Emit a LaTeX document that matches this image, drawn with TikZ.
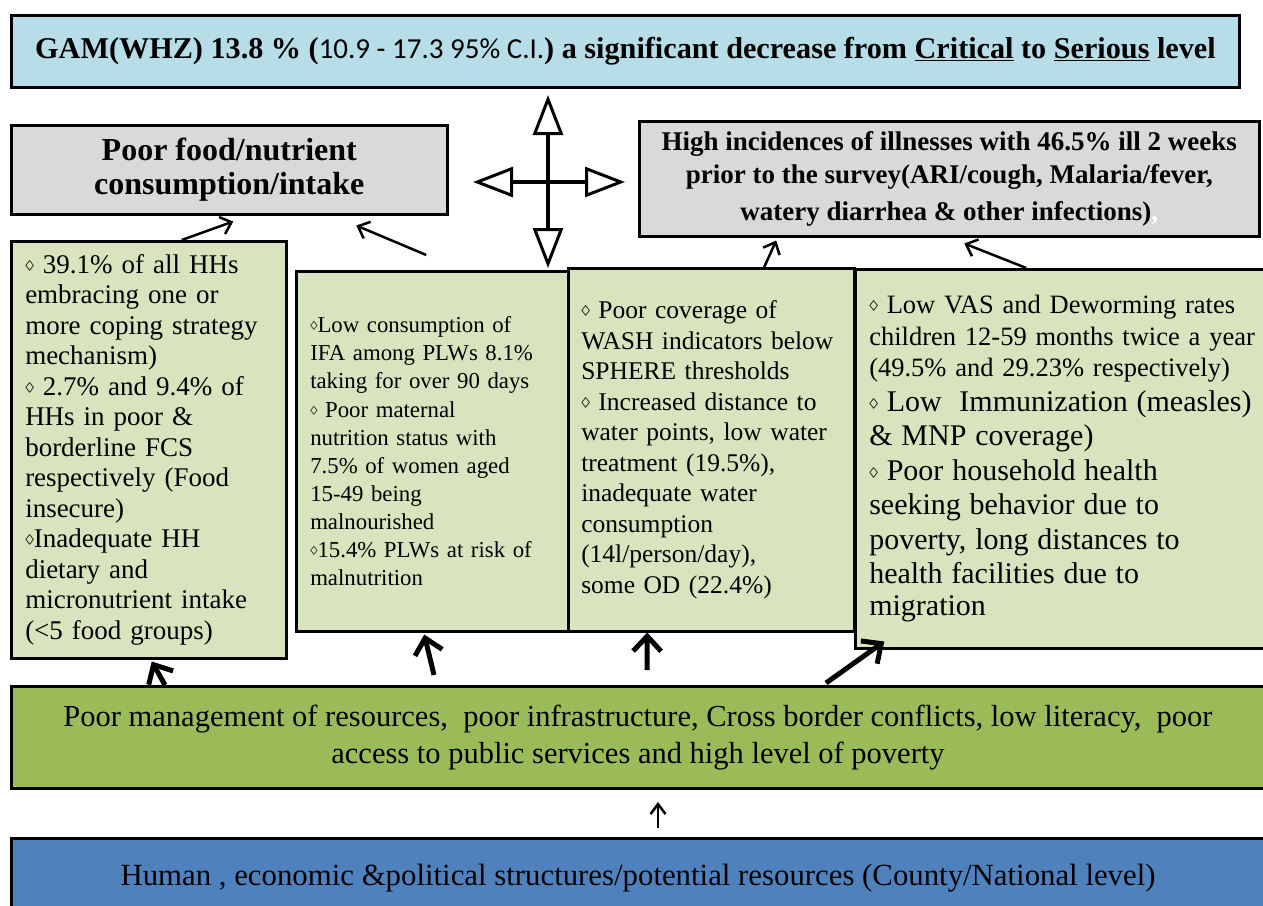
\documentclass[tikz,border=0pt]{standalone}
\usepackage{fontspec}
\usepackage{graphicx}
\setmainfont{Liberation Serif}
\newfontfamily\calib{Carlito}
\usetikzlibrary{arrows.meta}
\definecolor{titleblue}{HTML}{B7DEE8}
\definecolor{boxgray}{HTML}{D9D9D9}
\definecolor{leafgreen}{HTML}{D7E4BD}
\definecolor{olivegreen}{HTML}{9BBB59}
\definecolor{baseblue}{HTML}{4F81BD}
\newcommand{\dia}{\raisebox{0.08em}{\scalebox{0.7}[0.9]{$\diamond$}}}
\tikzset{
  frame/.style={draw, line width=2.5pt, anchor=north west, inner sep=0pt},
  headbox/.style={frame, fill=titleblue, line width=3pt, align=center},
  effectbox/.style={frame, fill=boxgray, align=center, font=\bfseries},
  causebox/.style={frame, fill=leafgreen, align=left, inner xsep=14pt},
  rootbox/.style={frame, line width=3pt, align=center},
  arr/.style={-{Straight Barb[length=10pt,width=18pt]}, line width=2.5pt},
  heavyarr/.style={-{Straight Barb[length=15pt,width=28pt]}, line width=5pt},
  lightarr/.style={-{Straight Barb[length=10pt,width=15pt]}, line width=2.5pt},
  crossarr/.style={{Triangle[open,length=40pt,width=30pt,line width=3pt]}-{Triangle[open,length=40pt,width=30pt,line width=3pt]}, line width=4pt}
}

\begin{document}
\begin{tikzpicture}[x=1pt,y=-1pt]
  \useasboundingbox (0,0) rectangle (1263,905);

  % outcome
  \node[headbox, minimum width=1228pt, minimum height=72pt, font={\fontsize{30.2}{32}\selectfont}] (gam) at (10,14)
    {\textbf{GAM(WHZ) 13.8 \% (}{\calib\fontsize{29}{30}\selectfont 10.9 - 17.3 95\% C.I.}\textbf{) a significant decrease from \underline{Critical} to \underline{Serious} level}};

  % immediate causes
  \node[effectbox, minimum width=436pt, minimum height=89pt, font={\fontsize{32}{34}\selectfont\bfseries}] (intake) at (10,124)
    {Poor food/nutrient\\consumption/intake};
  \node[effectbox, minimum width=620pt, minimum height=115pt, font={\fontsize{27}{33}\selectfont\bfseries}] (illness) at (638,120)
    {High incidences of illnesses with 46.5\% ill 2 weeks\\prior to the survey(ARI/cough, Malaria/fever,\\[4pt]watery diarrhea \& other infections)\textcolor{white}{,}};

  % underlying causes
  \node[causebox, text width=247pt, inner xsep=14pt, minimum width=275pt, minimum height=417pt, font={\fontsize{27}{30.5}\selectfont}] (food) at (10,240)
    {\dia\ 39.1\% of all HHs\\embracing one or\\more coping strategy\\mechanism)\\\dia\ 2.7\% and 9.4\% of\\HHs in poor \&\\borderline FCS\\respectively (Food\\insecure)\\\dia Inadequate HH\\dietary and\\micronutrient intake\\(<5 food groups)};
  \node[causebox, text width=244pt, minimum width=272pt, minimum height=360pt, font={\fontsize{22.8}{28.1}\selectfont}] (care) at (295,270)
    {\dia Low consumption of\\IFA among PLWs 8.1\%\\taking for over 90 days\\\dia\ Poor maternal\\nutrition status with\\7.5\% of women aged\\15-49 being\\malnourished\\\dia 15.4\% PLWs at risk of\\malnutrition};
  \node[causebox, text width=260pt, inner xsep=13pt, minimum width=286pt, minimum height=363pt, font={\fontsize{25.5}{30.5}\selectfont}] (wash) at (567,267)
    {\dia\ Poor coverage of\\WASH indicators below\\SPHERE thresholds\\\dia\ Increased distance to\\water points, low water\\treatment (19.5\%),\\inadequate water\\consumption\\(14l/person/day),\\some OD (22.4\%)};
  \node[causebox, text width=392pt, minimum width=420pt, minimum height=379pt, font={\fontsize{26.5}{31.5}\selectfont}] (health) at (854,268)
    {\dia\ Low VAS and Deworming rates\\children 12-59 months twice a year\\(49.5\% and 29.23\% respectively)\par
     \fontsize{30}{34.5}\selectfont\dia\ Low\ \ Immunization (measles)\\\& MNP coverage)\\\dia\ Poor household health\\seeking behavior due to\\poverty, long distances to\\health facilities due to\\migration};

  % basic causes
  \node[rootbox, fill=olivegreen, minimum width=1253pt, minimum height=102pt, font={\fontsize{30.5}{37}\selectfont}] (poverty) at (10,685)
    {Poor management of resources,\ \ poor infrastructure, Cross border conflicts, low literacy,\ \ poor\\access to public services and high level of poverty};
  \node[rootbox, fill=baseblue, minimum width=1253pt, minimum height=80pt, font={\fontsize{30.8}{32}\selectfont}] (structures) at (10,837)
    {Human , economic \&political structures/potential resources (County/National level)};

  % four-way arrow
  \coordinate (crossU) at (548,95);
  \coordinate (crossD) at (548,268);
  \coordinate (crossL) at (473,182);
  \coordinate (crossR) at (625,182);
  \draw[crossarr] (crossL) -- (crossR);
  \draw[crossarr] (crossU) -- (crossD);

  % links to immediate causes
  \draw[arr] ([xshift=33pt]food.north) -- ([xshift=4pt,yshift=-6pt]intake.south);
  \draw[arr] ([xshift=-6pt,yshift=15pt]care.north) -- ([xshift=127pt,yshift=-10pt]intake.south);
  \draw[arr] ([xshift=53pt]wash.north) -- ([xshift=-173pt,yshift=-3pt]illness.south);
  \draw[arr] ([xshift=-39pt]health.north) -- ([xshift=15pt,yshift=-6pt]illness.south);

  % links from basic causes
  \draw[heavyarr] ([xshift=-473pt]poverty.north) -- ([xshift=3pt,yshift=-2pt]food.south);
  \draw[heavyarr] ([xshift=-204pt,yshift=10pt]poverty.north) -- ([xshift=-8pt,yshift=-2pt]care.south);
  \draw[heavyarr] ([xshift=9pt,yshift=15pt]poverty.north) -- ([xshift=-64pt]wash.south);
  \draw[heavyarr] ([xshift=188pt,yshift=2pt]poverty.north) -- ([xshift=-181pt,yshift=8pt]health.south);
  \draw[lightarr] ([xshift=20pt,yshift=9pt]structures.north) -- ([xshift=20pt,yshift=-12pt]poverty.south);
\end{tikzpicture}
\end{document}
